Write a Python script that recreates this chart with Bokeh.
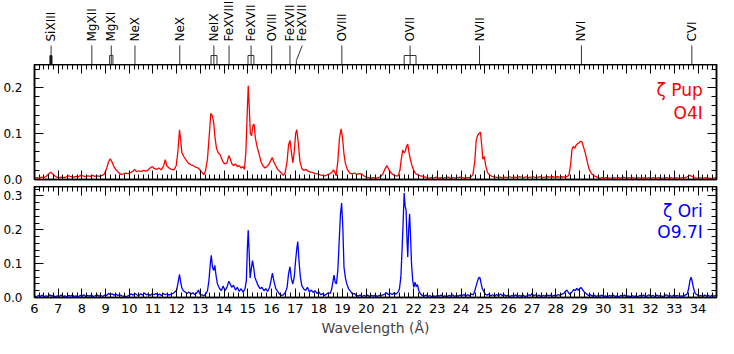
import math
from bokeh.plotting import figure
from bokeh.layouts import column
from bokeh.models import Range1d, SingleIntervalTicker, LinearAxis, PrintfTickFormatter
from bokeh.embed import file_html
from bokeh.resources import INLINE
from bokeh.core.properties import value

# ---------------- data ----------------
pup_wave = [
    6.00, 6.10, 6.20, 6.30, 6.40, 6.50, 6.60, 6.68, 6.75, 6.85,
    6.95, 7.05, 7.15, 7.25, 7.35, 7.45, 7.55, 7.65, 7.75, 7.85,
    7.95, 8.05, 8.15, 8.25, 8.35, 8.45, 8.55, 8.65, 8.75, 8.85,
    8.95, 9.05, 9.12, 9.20, 9.27, 9.35, 9.45, 9.55, 9.65, 9.75,
    9.85, 9.95, 10.05, 10.15, 10.22, 10.30, 10.40, 10.50, 10.60, 10.70,
    10.80, 10.90, 10.98, 11.05, 11.15, 11.25, 11.35, 11.45, 11.52, 11.58,
    11.68, 11.78, 11.88, 11.98, 12.05, 12.12, 12.17, 12.22, 12.30, 12.40,
    12.50, 12.60, 12.70, 12.80, 12.90, 13.00, 13.08, 13.15, 13.22, 13.30,
    13.38, 13.44, 13.50, 13.56, 13.62, 13.68, 13.75, 13.82, 13.90, 13.98,
    14.05, 14.12, 14.20, 14.26, 14.32, 14.40, 14.48, 14.56, 14.64, 14.72,
    14.80, 14.86, 14.92, 14.98, 15.02, 15.06, 15.11, 15.16, 15.22, 15.27,
    15.32, 15.40, 15.48, 15.56, 15.64, 15.72, 15.80, 15.88, 15.96, 16.03,
    16.10, 16.18, 16.26, 16.34, 16.42, 16.50, 16.58, 16.66, 16.72, 16.78,
    16.84, 16.90, 16.96, 17.02, 17.07, 17.13, 17.20, 17.28, 17.36, 17.45,
    17.55, 17.65, 17.75, 17.85, 17.95, 18.05, 18.15, 18.25, 18.35, 18.45,
    18.55, 18.62, 18.68, 18.73, 18.80, 18.87, 18.94, 19.00, 19.06, 19.12,
    19.20, 19.30, 19.40, 19.50, 19.60, 19.70, 19.80, 19.90, 20.00, 20.10,
    20.20, 20.30, 20.40, 20.50, 20.60, 20.70, 20.78, 20.87, 20.95, 21.05,
    21.15, 21.25, 21.35, 21.42, 21.48, 21.54, 21.60, 21.65, 21.70, 21.75,
    21.80, 21.86, 21.93, 22.00, 22.08, 22.18, 22.30, 22.42, 22.55, 22.65,
    22.75, 22.85, 22.95, 23.05, 23.15, 23.25, 23.35, 23.45, 23.55, 23.65,
    23.75, 23.85, 23.95, 24.05, 24.15, 24.25, 24.35, 24.42, 24.50, 24.58,
    24.64, 24.70, 24.76, 24.82, 24.88, 24.92, 24.98, 25.04, 25.12, 25.22,
    25.35, 25.45, 25.55, 25.65, 25.75, 25.85, 25.95, 26.05, 26.15, 26.25,
    26.35, 26.45, 26.55, 26.65, 26.75, 26.85, 26.95, 27.05, 27.15, 27.25,
    27.35, 27.45, 27.55, 27.65, 27.75, 27.85, 27.95, 28.05, 28.15, 28.25,
    28.35, 28.45, 28.55, 28.62, 28.68, 28.74, 28.80, 28.86, 28.92, 28.98,
    29.04, 29.10, 29.16, 29.24, 29.32, 29.40, 29.50, 29.62, 29.75, 29.85,
    29.95, 30.05, 30.15, 30.25, 30.35, 30.45, 30.55, 30.65, 30.75, 30.85,
    30.95, 31.05, 31.15, 31.25, 31.35, 31.45, 31.55, 31.65, 31.75, 31.85,
    31.95, 32.05, 32.15, 32.25, 32.35, 32.45, 32.55, 32.65, 32.75, 32.85,
    32.95, 33.05, 33.15, 33.25, 33.35, 33.45, 33.55, 33.65, 33.75, 33.85,
    33.95, 34.05, 34.15, 34.25, 34.35, 34.45, 34.55, 34.65, 34.78,
]
pup_flux = [
    0.003, 0.004, 0.003, 0.005, 0.004, 0.007, 0.012, 0.016, 0.013, 0.008,
    0.005, 0.004, 0.005, 0.004, 0.006, 0.008, 0.006, 0.005, 0.007, 0.006,
    0.009, 0.008, 0.006, 0.008, 0.007, 0.009, 0.007, 0.008, 0.007, 0.009,
    0.012, 0.025, 0.038, 0.045, 0.038, 0.028, 0.020, 0.015, 0.011, 0.012,
    0.014, 0.013, 0.015, 0.018, 0.022, 0.017, 0.019, 0.017, 0.020, 0.018,
    0.021, 0.026, 0.028, 0.024, 0.022, 0.025, 0.021, 0.030, 0.043, 0.030,
    0.025, 0.022, 0.021, 0.030, 0.060, 0.108, 0.085, 0.058, 0.050, 0.042,
    0.035, 0.032, 0.030, 0.027, 0.025, 0.020, 0.015, 0.010, 0.020, 0.045,
    0.100, 0.144, 0.138, 0.125, 0.090, 0.068, 0.058, 0.055, 0.045, 0.036,
    0.034, 0.036, 0.052, 0.045, 0.035, 0.030, 0.034, 0.028, 0.030, 0.025,
    0.028, 0.022, 0.060, 0.150, 0.204, 0.160, 0.100, 0.095, 0.118, 0.120,
    0.090, 0.070, 0.055, 0.038, 0.030, 0.025, 0.028, 0.032, 0.040, 0.048,
    0.038, 0.030, 0.022, 0.018, 0.014, 0.009, 0.015, 0.040, 0.075, 0.085,
    0.060, 0.036, 0.060, 0.100, 0.108, 0.080, 0.040, 0.024, 0.020, 0.022,
    0.018, 0.016, 0.015, 0.013, 0.012, 0.010, 0.009, 0.008, 0.010, 0.012,
    0.016, 0.021, 0.015, 0.008, 0.040, 0.090, 0.110, 0.090, 0.055, 0.035,
    0.022, 0.014, 0.012, 0.014, 0.011, 0.013, 0.012, 0.008, 0.005, 0.004,
    0.003, 0.004, 0.003, 0.004, 0.006, 0.012, 0.022, 0.030, 0.022, 0.014,
    0.010, 0.008, 0.008, 0.020, 0.045, 0.064, 0.058, 0.062, 0.072, 0.077,
    0.060, 0.044, 0.030, 0.020, 0.013, 0.010, 0.008, 0.006, 0.004, 0.003,
    0.004, 0.003, 0.005, 0.003, 0.004, 0.003, 0.004, 0.005, 0.003, 0.004,
    0.003, 0.004, 0.005, 0.004, 0.003, 0.004, 0.004, 0.006, 0.010, 0.040,
    0.085, 0.096, 0.100, 0.103, 0.070, 0.044, 0.050, 0.030, 0.015, 0.009,
    0.006, 0.005, 0.004, 0.005, 0.003, 0.005, 0.004, 0.006, 0.004, 0.005,
    0.004, 0.006, 0.005, 0.004, 0.006, 0.004, 0.005, 0.006, 0.004, 0.005,
    0.006, 0.004, 0.005, 0.006, 0.005, 0.006, 0.005, 0.006, 0.005, 0.006,
    0.005, 0.006, 0.009, 0.030, 0.065, 0.072, 0.068, 0.075, 0.078, 0.080,
    0.083, 0.082, 0.072, 0.058, 0.040, 0.023, 0.013, 0.008, 0.005, 0.003,
    0.004, 0.003, 0.004, 0.003, 0.003, 0.004, 0.003, 0.004, 0.003, 0.005,
    0.003, 0.004, 0.003, 0.004, 0.003, 0.004, 0.003, 0.003, 0.004, 0.003,
    0.004, 0.003, 0.004, 0.003, 0.004, 0.003, 0.003, 0.004, 0.003, 0.004,
    0.003, 0.004, 0.003, 0.003, 0.004, 0.004, 0.006, 0.009, 0.007, 0.004,
    0.003, 0.004, 0.003, 0.003, 0.004, 0.003, 0.002, 0.003, 0.004,
]

ori_wave = [
    6.00, 6.08, 6.16, 6.24, 6.32, 6.40, 6.48, 6.56, 6.64, 6.72,
    6.80, 6.88, 6.96, 7.04, 7.12, 7.20, 7.28, 7.36, 7.44, 7.52,
    7.60, 7.68, 7.76, 7.84, 7.92, 8.00, 8.08, 8.16, 8.24, 8.32,
    8.40, 8.48, 8.56, 8.64, 8.72, 8.80, 8.88, 8.96, 9.04, 9.12,
    9.20, 9.28, 9.36, 9.44, 9.52, 9.60, 9.68, 9.76, 9.84, 9.92,
    10.00, 10.08, 10.16, 10.24, 10.32, 10.40, 10.48, 10.56, 10.64, 10.72,
    10.80, 10.88, 10.96, 11.04, 11.12, 11.20, 11.28, 11.36, 11.44, 11.52,
    11.60, 11.68, 11.76, 11.84, 11.92, 12.00, 12.06, 12.12, 12.17, 12.22,
    12.28, 12.36, 12.44, 12.52, 12.60, 12.68, 12.76, 12.84, 12.92, 12.98,
    13.06, 13.14, 13.22, 13.30, 13.36, 13.42, 13.46, 13.51, 13.56, 13.61,
    13.66, 13.72, 13.80, 13.88, 13.96, 14.04, 14.12, 14.20, 14.26, 14.32,
    14.40, 14.48, 14.56, 14.64, 14.72, 14.80, 14.88, 14.94, 14.98, 15.02,
    15.06, 15.10, 15.15, 15.20, 15.25, 15.30, 15.36, 15.44, 15.52, 15.60,
    15.68, 15.76, 15.84, 15.92, 15.98, 16.04, 16.10, 16.18, 16.26, 16.34,
    16.42, 16.50, 16.58, 16.66, 16.72, 16.78, 16.84, 16.90, 16.96, 17.02,
    17.07, 17.11, 17.16, 17.22, 17.28, 17.36, 17.44, 17.52, 17.60, 17.68,
    17.76, 17.84, 17.92, 18.00, 18.08, 18.16, 18.24, 18.32, 18.40, 18.48,
    18.54, 18.60, 18.64, 18.69, 18.74, 18.80, 18.86, 18.91, 18.96, 19.01,
    19.06, 19.12, 19.18, 19.26, 19.34, 19.42, 19.50, 19.58, 19.66, 19.74,
    19.82, 19.90, 19.98, 20.06, 20.14, 20.22, 20.30, 20.38, 20.46, 20.54,
    20.62, 20.70, 20.78, 20.86, 20.94, 21.02, 21.10, 21.18, 21.26, 21.34,
    21.40, 21.46, 21.51, 21.56, 21.60, 21.64, 21.68, 21.72, 21.75, 21.79,
    21.83, 21.87, 21.91, 21.96, 22.01, 22.06, 22.11, 22.16, 22.22, 22.28,
    22.36, 22.44, 22.52, 22.60, 22.68, 22.76, 22.84, 22.92, 23.00, 23.08,
    23.16, 23.24, 23.32, 23.40, 23.48, 23.56, 23.64, 23.72, 23.80, 23.88,
    23.96, 24.04, 24.12, 24.20, 24.28, 24.36, 24.44, 24.52, 24.58, 24.64,
    24.70, 24.76, 24.80, 24.85, 24.90, 24.96, 25.02, 25.10, 25.18, 25.26,
    25.34, 25.42, 25.50, 25.58, 25.66, 25.74, 25.82, 25.90, 25.98, 26.06,
    26.14, 26.22, 26.30, 26.38, 26.46, 26.54, 26.62, 26.70, 26.78, 26.86,
    26.94, 27.00, 27.06, 27.14, 27.22, 27.30, 27.38, 27.46, 27.54, 27.62,
    27.70, 27.78, 27.86, 27.94, 28.02, 28.10, 28.18, 28.26, 28.34, 28.40,
    28.46, 28.52, 28.58, 28.64, 28.70, 28.76, 28.82, 28.88, 28.94, 29.00,
    29.06, 29.12, 29.18, 29.24, 29.30, 29.38, 29.46, 29.54, 29.62, 29.70,
    29.78, 29.86, 29.94, 30.02, 30.10, 30.18, 30.26, 30.34, 30.42, 30.50,
    30.58, 30.66, 30.74, 30.82, 30.90, 30.98, 31.06, 31.14, 31.22, 31.30,
    31.38, 31.46, 31.54, 31.62, 31.70, 31.78, 31.86, 31.94, 32.02, 32.10,
    32.18, 32.26, 32.34, 32.42, 32.50, 32.58, 32.66, 32.74, 32.82, 32.90,
    32.98, 33.06, 33.14, 33.22, 33.30, 33.38, 33.46, 33.54, 33.60, 33.66,
    33.71, 33.76, 33.82, 33.88, 33.96, 34.04, 34.12, 34.20, 34.28, 34.36,
    34.44, 34.52, 34.60, 34.68, 34.78,
]
ori_flux = [
    0.004, 0.002, 0.006, 0.003, 0.007, 0.002, 0.005, 0.003, 0.008, 0.004,
    0.006, 0.002, 0.005, 0.003, 0.007, 0.003, 0.005, 0.002, 0.006, 0.004,
    0.007, 0.003, 0.005, 0.002, 0.006, 0.004, 0.008, 0.003, 0.006, 0.004,
    0.007, 0.003, 0.005, 0.008, 0.004, 0.006, 0.003, 0.007, 0.006, 0.012,
    0.009, 0.011, 0.007, 0.010, 0.006, 0.008, 0.005, 0.004, 0.003, 0.004,
    0.006, 0.011, 0.007, 0.012, 0.008, 0.006, 0.011, 0.007, 0.013, 0.008,
    0.010, 0.006, 0.011, 0.008, 0.012, 0.007, 0.010, 0.006, 0.012, 0.008,
    0.011, 0.007, 0.010, 0.012, 0.016, 0.022, 0.045, 0.068, 0.045, 0.028,
    0.020, 0.016, 0.012, 0.016, 0.010, 0.014, 0.009, 0.013, 0.022, 0.010,
    0.008, 0.005, 0.010, 0.020, 0.050, 0.100, 0.125, 0.090, 0.080, 0.095,
    0.065, 0.040, 0.028, 0.020, 0.034, 0.020, 0.030, 0.048, 0.040, 0.030,
    0.036, 0.022, 0.030, 0.018, 0.026, 0.016, 0.025, 0.050, 0.140, 0.199,
    0.130, 0.058, 0.085, 0.109, 0.088, 0.060, 0.049, 0.035, 0.026, 0.030,
    0.020, 0.026, 0.018, 0.030, 0.050, 0.072, 0.050, 0.026, 0.018, 0.010,
    0.006, 0.008, 0.014, 0.030, 0.070, 0.091, 0.055, 0.040, 0.060, 0.110,
    0.145, 0.165, 0.110, 0.060, 0.035, 0.025, 0.021, 0.030, 0.016, 0.022,
    0.015, 0.020, 0.012, 0.017, 0.008, 0.012, 0.006, 0.010, 0.014, 0.012,
    0.025, 0.050, 0.066, 0.045, 0.040, 0.080, 0.170, 0.244, 0.279, 0.210,
    0.090, 0.058, 0.040, 0.025, 0.018, 0.010, 0.012, 0.006, 0.004, 0.007,
    0.003, 0.006, 0.004, 0.007, 0.003, 0.006, 0.004, 0.007, 0.003, 0.006,
    0.005, 0.008, 0.010, 0.014, 0.008, 0.012, 0.009, 0.014, 0.010, 0.016,
    0.025, 0.060, 0.140, 0.230, 0.309, 0.270, 0.258, 0.170, 0.120, 0.200,
    0.247, 0.180, 0.100, 0.050, 0.030, 0.045, 0.032, 0.038, 0.020, 0.012,
    0.006, 0.004, 0.007, 0.003, 0.006, 0.002, 0.005, 0.003, 0.006, 0.004,
    0.007, 0.003, 0.005, 0.002, 0.006, 0.004, 0.008, 0.003, 0.006, 0.004,
    0.007, 0.005, 0.009, 0.004, 0.008, 0.005, 0.010, 0.008, 0.020, 0.035,
    0.050, 0.060, 0.058, 0.040, 0.025, 0.018, 0.010, 0.007, 0.010, 0.005,
    0.008, 0.004, 0.009, 0.005, 0.010, 0.006, 0.008, 0.004, 0.007, 0.003,
    0.006, 0.004, 0.008, 0.003, 0.006, 0.004, 0.007, 0.003, 0.005, 0.008,
    0.006, 0.012, 0.005, 0.008, 0.004, 0.007, 0.003, 0.006, 0.004, 0.008,
    0.005, 0.007, 0.004, 0.006, 0.005, 0.009, 0.006, 0.010, 0.012, 0.018,
    0.022, 0.016, 0.010, 0.013, 0.018, 0.024, 0.020, 0.027, 0.021, 0.026,
    0.030, 0.024, 0.018, 0.014, 0.010, 0.006, 0.008, 0.004, 0.007, 0.003,
    0.006, 0.004, 0.007, 0.003, 0.005, 0.002, 0.006, 0.004, 0.007, 0.003,
    0.005, 0.002, 0.006, 0.004, 0.007, 0.003, 0.005, 0.002, 0.006, 0.003,
    0.005, 0.002, 0.006, 0.004, 0.007, 0.003, 0.005, 0.008, 0.004, 0.006,
    0.003, 0.007, 0.004, 0.006, 0.003, 0.005, 0.008, 0.004, 0.006, 0.003,
    0.007, 0.004, 0.006, 0.003, 0.005, 0.004, 0.007, 0.010, 0.025, 0.050,
    0.060, 0.045, 0.025, 0.012, 0.008, 0.004, 0.006, 0.003, 0.007, 0.004,
    0.006, 0.003, 0.007, 0.004, 0.006,
]

line_names = ["SiXIII", "MgXII", "MgXI", "NeX", "NeX", "NeIX", "FeXVIII", "FeXVII",
              "OVIII", "FeXVII", "FeXVII", "OVIII", "OVII", "NVII", "NVI", "CVI"]
line_wave = [6.70, 8.42, 9.24, 10.24, 12.13, 13.57, 14.21, 15.14,
             16.01, 16.78, 17.05, 18.97, 21.85, 24.78, 29.08, 33.74]
label_wave = [6.70, 8.42, 9.24, 10.24, 12.13, 13.57, 14.21, 15.14,
              16.01, 16.78, 17.30, 18.97, 21.85, 24.78, 29.08, 33.74]
box_lo = [6.65, 9.17, 13.45, 15.01, 21.60]
box_hi = [6.74, 9.31, 13.70, 15.26, 22.10]
box_fill = ["black", None, None, None, None]

pup_names = ["ζ Pup", "O4I"]
ori_names = ["ζ Ori", "O9.7I"]

# ---------------- layout ----------------
FONT = "DejaVu Sans"
W = 718
LB, RB = 33, 2
H_LAB, H_TOP, H_BOT = 64, 122, 152

xr = Range1d(6.0, 34.78)


def make_axis(interval, labels, size="12px", fmt=None):
    ax = LinearAxis(ticker=SingleIntervalTicker(interval=interval, num_minor_ticks=5))
    if fmt:
        ax.formatter = PrintfTickFormatter(format=fmt)
    ax.major_tick_in = 9
    ax.major_tick_out = 0
    ax.minor_tick_in = 5
    ax.minor_tick_out = 0
    ax.axis_line_color = "black"
    ax.axis_line_width = 1.5
    ax.major_tick_line_color = "black"
    ax.minor_tick_line_color = "black"
    if labels:
        ax.major_label_text_font = FONT
        ax.major_label_text_font_size = size
        ax.major_label_text_color = "black"
    else:
        ax.major_label_text_font_size = "0px"
        ax.major_label_standoff = 0
        ax.major_label_text_alpha = 0
    return ax


# label strip
pl = figure(width=W, height=H_LAB, x_range=xr, y_range=Range1d(0, H_LAB),
            output_backend="svg", toolbar_location=None,
            min_border_left=LB, min_border_right=RB, min_border_top=0, min_border_bottom=0,
            x_axis_location=None, y_axis_location=None)
pl.grid.visible = False
pl.outline_line_color = None
xs, ys = [], []
for w, lw in zip(line_wave, label_wave):
    if abs(w - lw) > 1e-6:
        xs.append([w, w, lw])
        ys.append([0, 4, 19])
    else:
        xs.append([w, w])
        ys.append([0, 19])
pl.multi_line(xs, ys, line_color="#333333", line_width=1)
for lo, hi, fc in zip(box_lo, box_hi, box_fill):
    pl.quad(left=[lo], right=[hi], bottom=[0], top=[9],
            fill_color=fc, fill_alpha=1 if fc else 0, line_color="#333333", line_width=1)
pl.text(x=label_wave, y=[23] * len(label_wave), text=line_names, angle=math.pi / 2,
        text_align="left", text_baseline="middle", text_font=value(FONT),
        text_font_size="12px", text_color="black")


def panel(height, ymax, border_bottom, color, wave, flux, names, name_y, xlabels):
    p = figure(width=W, height=height, x_range=xr, y_range=Range1d(0, ymax),
               output_backend="svg", toolbar_location=None,
               min_border_left=LB, min_border_right=RB, min_border_top=0,
               min_border_bottom=border_bottom,
               x_axis_location=None, y_axis_location=None)
    p.grid.visible = False
    p.outline_line_color = "black"
    p.outline_line_width = 1.5
    p.background_fill_color = "white"
    p.border_fill_color = "white"

    left = make_axis(0.1, True, "12px", "%.1f")
    left.major_label_standoff = 12
    p.add_layout(left, "left")
    p.add_layout(make_axis(0.1, False), "right")
    p.add_layout(make_axis(1, False), "above")
    bottom = make_axis(1, xlabels, "13px")
    if xlabels:
        bottom.major_label_standoff = 6
        bottom.axis_label = "Wavelength (Å)"
        bottom.axis_label_text_font = FONT
        bottom.axis_label_text_font_size = "14px"
        bottom.axis_label_text_font_style = "normal"
        bottom.axis_label_standoff = 4
    p.add_layout(bottom, "below")

    p.line(wave, flux, line_color=color, line_width=1.3)
    p.text(x=[34.2] * len(names), y=name_y, text=names, text_align="right",
           text_baseline="middle", text_font=value(FONT), text_font_size="17px",
           text_color=color)
    return p


pa = panel(H_TOP, 0.25, 7, "#ff0000", pup_wave, pup_flux, pup_names, [0.194, 0.144], False)
pb = panel(H_BOT, 0.328, 40, "#0000ff", ori_wave, ori_flux, ori_names, [0.256, 0.193], True)

layout = column(pl, pa, pb)
open("out.html", "w").write(file_html(layout, INLINE))
